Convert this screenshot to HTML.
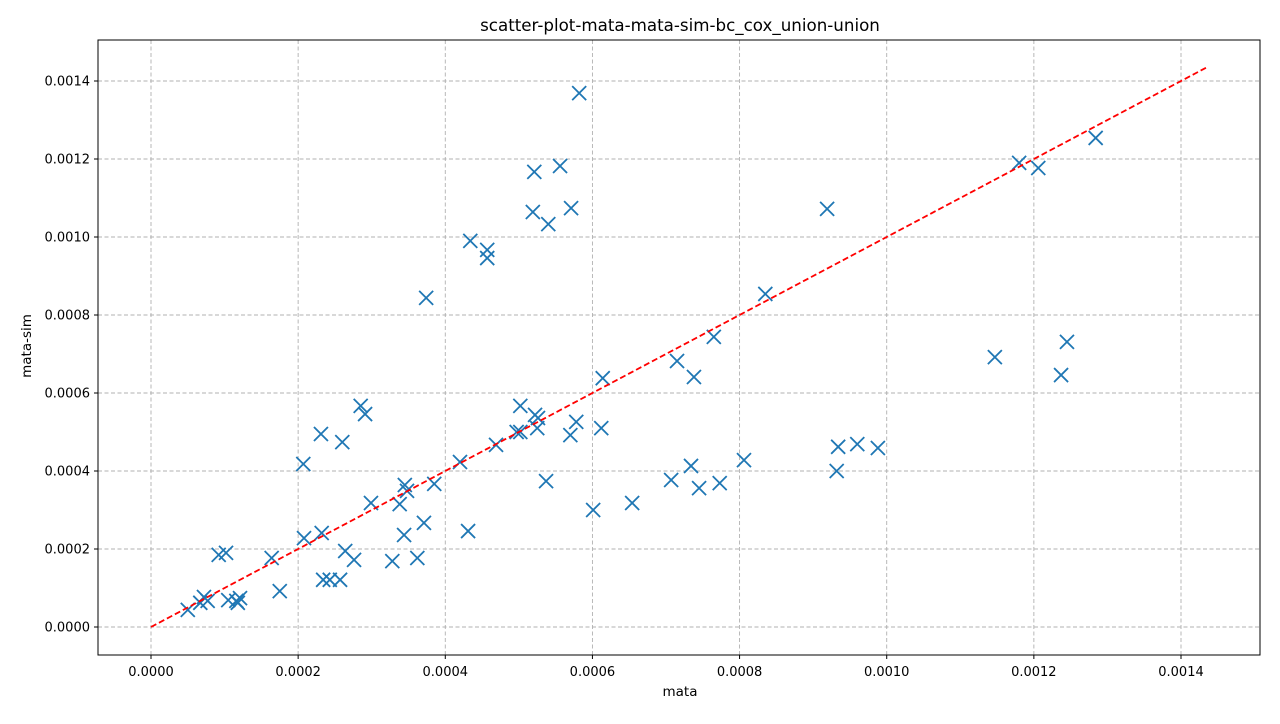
<!DOCTYPE html>
<html><head><meta charset="utf-8"><style>
body{margin:0;background:#fff;font-family:"Liberation Sans","DejaVu Sans",sans-serif;}
svg text{font-family:"DejaVu Sans","Liberation Sans",sans-serif;}
</style></head><body>
<svg id="chart" width="1280" height="719">
<text x="680" y="31" font-size="16.7" text-anchor="middle">scatter-plot-mata-mata-sim-bc_cox_union-union</text>
<text x="680" y="696" font-size="13.5" text-anchor="middle">mata</text>
<text x="31" y="346" font-size="13.5" text-anchor="middle" transform="rotate(-90 31 346)">mata-sim</text>
<g id="grid"></g><g id="ticks"></g><g id="marks"></g>
<rect x="98" y="40" width="1162" height="615" fill="none" stroke="#000" stroke-width="1"/>
</svg>
<script>
const xVals=[50,67,72,77,92,102,105,116,121,118,164,175,207,208,231,232,234,243,257,260,264,276,285,291,299,328,338,344,345,348,362,371,374,385,420,431,434,457,457,469,497,502,502,519,521,522,525,526,537,540,556,570,571,578,582,601,612,614,654,707,715,734,738,745,765,773,806,835,919,932,934,960,988,1147,1180,1206,1237,1245,1284];
const yVals=[44,62,77,67,185,190,69,67,74,62,177,92,418,228,495,241,121,121,121,474,195,172,567,546,318,169,315,236,364,349,177,267,844,367,423,246,990,967,946,467,500,500,567,1064,1167,544,510,536,374,1033,1182,492,1074,526,1369,300,510,638,318,377,682,413,641,356,744,369,428,854,1072,400,462,469,459,692,1190,1177,646,731,1254];
const tickVals=[0,0.0002,0.0004,0.0006,0.0008,0.0010,0.0012,0.0014];
const tickLabels=["0.0000","0.0002","0.0004","0.0006","0.0008","0.0010","0.0012","0.0014"];
const lineEnd=0.001435;
const sx=v=>151+v*1030/0.0014;
const sy=v=>627-v*546/0.0014;
const NS="http://www.w3.org/2000/svg";
function mk(t,a,p){const e=document.createElementNS(NS,t);for(const k in a)e.setAttribute(k,a[k]);p.appendChild(e);return e;}
const grid=document.getElementById('grid'),ticks=document.getElementById('ticks'),marks=document.getElementById('marks');
tickVals.forEach((v,i)=>{
 const x=sx(v),y=sy(v);
 const gx=mk('line',{x1:x,x2:x,y1:40,y2:655,stroke:'#b0b0b0','stroke-dasharray':'4,2.5','stroke-width':0.9},grid);
 
 
 const gy=mk('line',{x1:98,x2:1260,y1:y,y2:y,stroke:'#b0b0b0','stroke-dasharray':'4,2.5','stroke-width':0.9},grid);
 
 
 mk('line',{x1:x,x2:x,y1:655,y2:659,stroke:'#000'},ticks);
 mk('line',{x1:94,x2:98,y1:y,y2:y,stroke:'#000'},ticks);
 const tx=mk('text',{x:x,y:676,'font-size':13,'text-anchor':'middle'},ticks);tx.textContent=tickLabels[i];
 
 
 const ty=mk('text',{x:90,y:y+4.5,'font-size':13,'text-anchor':'end'},ticks);ty.textContent=tickLabels[i];
 
 
});
xVals.forEach((xv,i)=>{
 const x=sx(xv*1e-6),y=sy(yVals[i]*1e-6),r=7;
 const p=mk('path',{d:`M${x-r},${y-r}L${x+r},${y+r}M${x-r},${y+r}L${x+r},${y-r}`,stroke:'#1f77b4','stroke-width':1.8,fill:'none'},marks);
 
 
});
const l=mk('line',{x1:sx(0),y1:sy(0),x2:sx(lineEnd),y2:sy(lineEnd),stroke:'#ff0000','stroke-width':1.8,'stroke-dasharray':'6,3'},marks);


</script>
</body></html>
